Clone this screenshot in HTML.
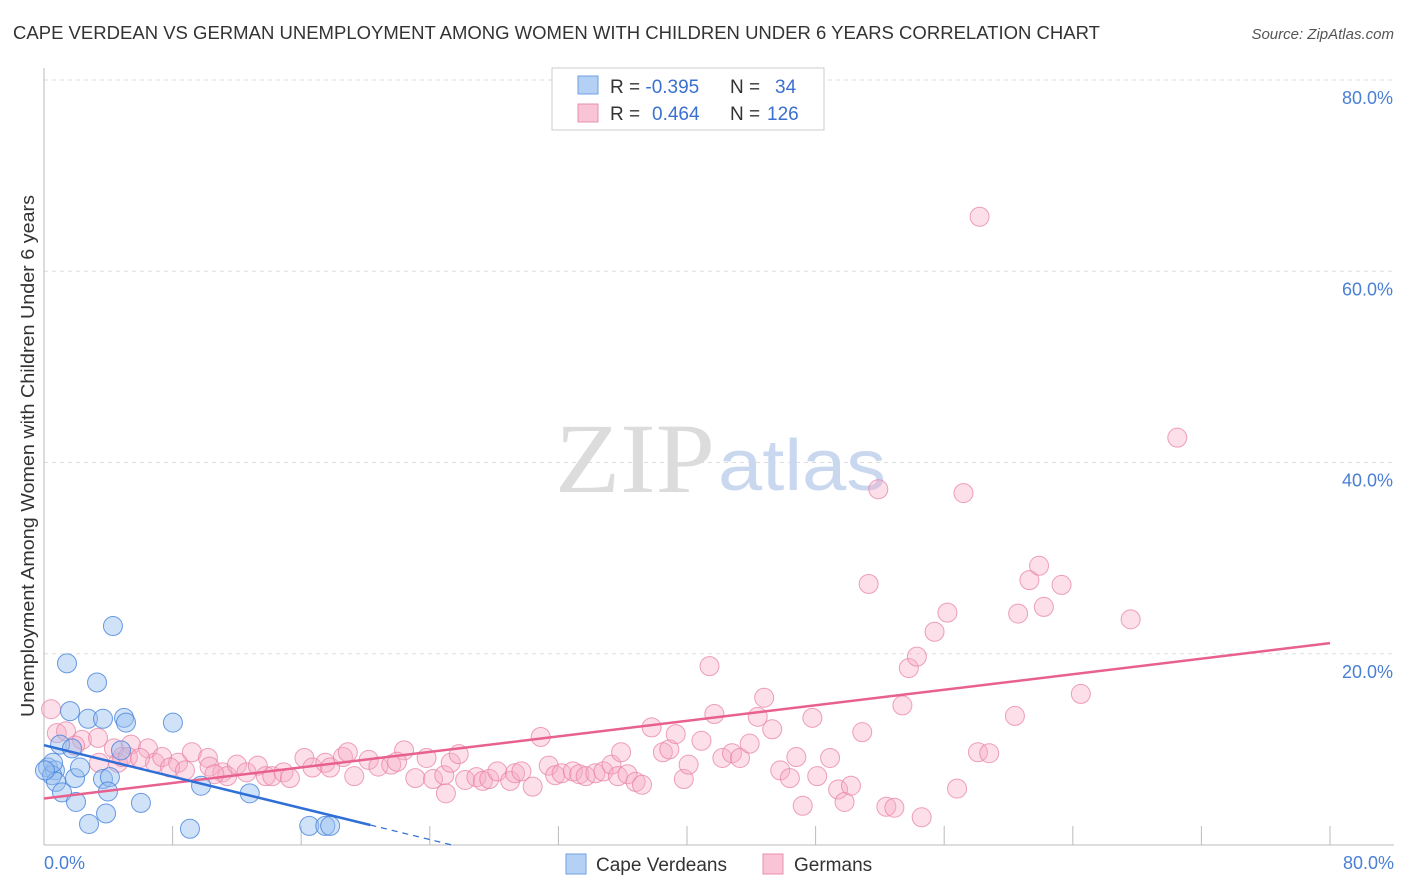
<!DOCTYPE html>
<html><head><meta charset="utf-8">
<style>
body{margin:0;background:#fff;font-family:"Liberation Sans",sans-serif;}
svg{display:block}
</style></head>
<body>
<svg id="chart" width="1406" height="892">
<text x="13" y="39" font-size="18" fill="#333" textLength="1087" lengthAdjust="spacingAndGlyphs">CAPE VERDEAN VS GERMAN UNEMPLOYMENT AMONG WOMEN WITH CHILDREN UNDER 6 YEARS CORRELATION CHART</text>
<text x="1394" y="39" font-size="15" fill="#555" font-style="italic" text-anchor="end">Source: ZipAtlas.com</text>
<g id="grid"></g>
<text x="555" y="492" font-size="100" font-family="Liberation Serif,serif" fill="#dcdcdc" textLength="160" lengthAdjust="spacingAndGlyphs">ZIP</text>
<text x="718" y="490" font-size="72" fill="#c9d8ef" textLength="168" lengthAdjust="spacingAndGlyphs">atlas</text>
<g id="marks"></g>
<text x="34" y="456" font-size="18" fill="#333" text-anchor="middle" textLength="522" lengthAdjust="spacingAndGlyphs" transform="rotate(-90 34 456)">Unemployment Among Women with Children Under 6 years</text>
<text x="44" y="869" font-size="18" fill="#4a7fd4">0.0%</text>
<text x="1394" y="869" font-size="18" fill="#4a7fd4" text-anchor="end">80.0%</text>
<g>
<rect x="552" y="68" width="272" height="62" fill="#fff" stroke="#ccc"/>
<rect x="578" y="76" width="20" height="18" fill="#b5d0f5" stroke="#6f9fe0"/>
<rect x="578" y="104" width="20" height="18" fill="#f9c5d6" stroke="#e890ae"/>
<text x="610" y="93" font-size="19" fill="#333">R = <tspan fill="#3a70d0">-0.395</tspan><tspan x="730">N = </tspan><tspan x="775" fill="#3a70d0">34</tspan></text>
<text x="610" y="120" font-size="19" fill="#333">R = <tspan x="652" fill="#3a70d0">0.464</tspan><tspan x="730">N = </tspan><tspan x="767" fill="#3a70d0">126</tspan></text>
</g>
<g>
<rect x="566" y="854" width="20" height="20" fill="#b5d0f5" stroke="#6f9fe0"/>
<text x="596" y="871" font-size="19" fill="#333">Cape Verdeans</text>
<rect x="763" y="854" width="20" height="20" fill="#f9c5d6" stroke="#e890ae"/>
<text x="794" y="871" font-size="19" fill="#333">Germans</text>
</g>
</svg>
<script>
const yTicks=[20,40,60,80];
const yTickLabels=["20.0%","40.0%","60.0%","80.0%"];
const xTicks=[8,16,24,32,40,48,56,64,72,80];
const blueX=[1.43,3.30,4.29,1.62,2.74,3.67,4.98,5.10,8.02,1.0,1.74,4.79,0.25,0.68,0.5,0.75,1.93,2.24,3.67,4.1,3.98,1.12,1.99,6.03,2.8,3.86,9.08,9.77,12.8,16.5,17.5,17.8,0.56,0.06];
const blueY=[19.0,17.0,22.9,14.0,13.2,13.2,13.3,12.8,12.8,10.5,10.1,9.9,8.1,7.8,7.3,6.6,7.0,8.1,6.9,7.1,5.6,5.5,4.5,4.4,2.2,3.3,1.7,6.2,5.4,2.0,2.0,2.0,8.6,7.8];
const pinkX=[0.44,0.8,1.37,2.36,1.93,3.36,4.35,5.41,6.47,6.9,7.35,4.6,4.85,5.22,5.97,8.34,9.2,10.2,10.3,11.1,11.4,12.0,12.6,13.3,13.8,14.2,14.9,15.3,16.2,16.7,17.5,17.8,18.6,18.9,19.3,20.2,20.8,21.6,22.4,21.96,23.1,23.8,24.2,24.9,25.0,25.3,25.8,26.2,26.9,27.3,27.7,28.2,29.0,29.3,29.7,30.4,30.9,31.4,31.8,32.2,32.9,33.3,33.7,34.3,34.8,35.3,35.7,35.9,36.3,36.8,37.2,37.8,38.5,38.9,39.3,39.8,40.1,40.9,41.4,41.7,42.2,42.8,43.3,43.9,44.4,44.8,45.3,45.8,46.4,46.8,47.2,47.8,48.1,48.9,49.4,49.8,50.2,50.9,51.3,51.9,52.4,52.9,53.4,53.8,54.3,54.6,55.4,56.2,56.8,57.2,58.2,58.1,58.8,60.4,60.6,61.3,61.9,62.2,63.3,64.5,67.6,70.5,3.42,7.84,8.77,10.6];
const pinkY=[14.2,11.7,11.9,11.0,10.4,11.2,10.1,10.5,10.1,8.6,9.2,8.6,9.2,9.2,9.1,8.6,9.7,9.1,8.2,7.6,7.2,8.4,7.6,8.3,7.2,7.2,7.6,7.0,9.1,8.1,8.6,8.1,9.2,9.7,7.2,8.9,8.2,8.4,9.9,8.7,7.0,9.1,6.9,7.3,5.4,8.6,9.5,6.8,7.1,6.7,6.9,7.7,6.7,7.5,7.7,6.1,11.3,8.3,7.3,7.5,7.7,7.4,7.2,7.5,7.7,8.4,7.2,9.7,7.4,6.6,6.3,12.3,9.7,10.0,11.6,6.9,8.4,10.9,18.7,13.7,9.1,9.6,9.1,10.6,13.4,15.4,12.1,7.8,7.0,9.2,4.1,13.3,7.2,9.1,5.8,4.5,6.2,11.8,27.3,37.2,4.0,3.9,14.6,18.5,19.7,2.9,22.3,24.3,5.9,36.8,65.7,9.7,9.6,13.5,24.2,27.7,29.2,24.9,27.2,15.8,23.6,42.6,8.6,8.1,7.8,7.4];

const X0=44,X1=1330,Y0=845,Y1=80;
const sx=v=>X0+v/80*(X1-X0);
const sy=v=>Y0-v/80*(Y0-Y1);
const NS="http://www.w3.org/2000/svg";
const grid=document.getElementById('grid'),marks=document.getElementById('marks');
function mk(tag,attrs,parent){const e=document.createElementNS(NS,tag);for(const k in attrs)e.setAttribute(k,attrs[k]);parent.appendChild(e);return e;}

yTicks.forEach((t,i)=>{
  const l=mk('line',{x1:X0,x2:1394,y1:sy(t),y2:sy(t),stroke:'#ddd','stroke-dasharray':'4,4'},grid);
  
  
  const tx=mk('text',{x:1393,y:sy(t)+24,'font-size':18,fill:'#4a7fd4','text-anchor':'end'},grid);
  tx.textContent=yTickLabels[i];
  
  
});
const ax=mk('line',{x1:X0,x2:X0,y1:68,y2:Y0,stroke:'#bbb'},grid);


const bx=mk('line',{x1:X0,x2:1394,y1:Y0,y2:Y0,stroke:'#bbb'},grid);


xTicks.forEach(t=>{
  const l=mk('line',{x1:sx(t),x2:sx(t),y1:826,y2:Y0,stroke:'#bbb'},grid);
  
  
});

function reg(xs,ys){const n=xs.length;let mx=0,my=0;for(let i=0;i<n;i++){mx+=xs[i];my+=ys[i];}mx/=n;my/=n;let sxy=0,sxx=0;for(let i=0;i<n;i++){sxy+=(xs[i]-mx)*(ys[i]-my);sxx+=(xs[i]-mx)**2;}const b=sxy/sxx;return [my-b*mx,b];}

pinkX.forEach((x,i)=>{
  const c=mk('circle',{cx:sx(x),cy:sy(pinkY[i]),r:9.5,fill:'rgba(246,170,196,0.38)',stroke:'rgba(232,130,165,0.75)','stroke-width':1},marks);
  
  
});
blueX.forEach((x,i)=>{
  const c=mk('circle',{cx:sx(x),cy:sy(blueY[i]),r:9.5,fill:'rgba(150,190,240,0.45)',stroke:'rgba(70,130,220,0.8)','stroke-width':1},marks);
  
  
});
const [pa,pb]=reg(pinkX,pinkY);
const pl=mk('line',{x1:sx(0),y1:sy(pa),x2:sx(80),y2:sy(pa+pb*80),stroke:'#e8608e','stroke-width':2.5},marks);


const [ba,bb]=reg(blueX,blueY);
const xe=Math.max(...blueX)+2.5;
const bl=mk('line',{x1:sx(0),y1:sy(ba),x2:sx(xe),y2:sy(ba+bb*xe),stroke:'#2f6fd6','stroke-width':2.5},marks);


const xd=-ba/bb;
const bd=mk('line',{x1:sx(xe),y1:sy(ba+bb*xe),x2:sx(xd),y2:sy(0),stroke:'#2f6fd6','stroke-width':1.2,'stroke-dasharray':'6,5'},marks);


</script>
</body></html>
